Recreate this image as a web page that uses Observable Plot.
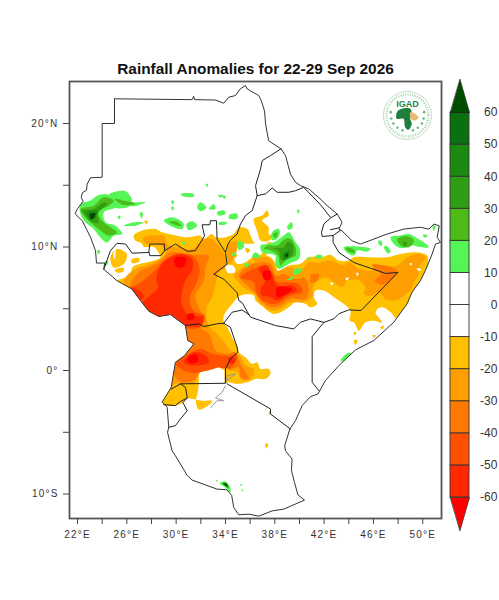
<!DOCTYPE html>
<html><head><meta charset="utf-8">
<style>html,body{margin:0;padding:0;background:#fff}#wrap{display:flex;width:499px;height:600px;font-family:"Liberation Sans",Arial,sans-serif}
#wrap svg g[aria-label="x-axis tick label"] text,#wrap svg g[aria-label="y-axis tick label"] text{letter-spacing:1.2px}</style>
<script src="https://cdn.jsdelivr.net/npm/d3@7"></script>
<script src="https://cdn.jsdelivr.net/npm/@observablehq/plot@0.6"></script>
</head><body><div id="wrap"></div>
<script>
const titleText = "Rainfall Anomalies for 22-29 Sep 2026";
const lonTicks = [22,24,26,28,30,32,34,36,38,40,42,44,46,48,50];
const latTicks = [-10,-5,0,5,10,15,20];
const barLevels = [-60,-50,-40,-30,-20,-10,0,10,20,30,40,50,60];
const barColors = ["#ff2800","#ff5000","#ff7800","#ff9e00","#ffc000","#ffffff","#ffffff","#55f555","#4cbb17","#2f9e14","#1c8a10","#0a7010"];
const tipLow = "#ff0000", tipHigh = "#004d00";
const [Y1,Y2,Y3,Y4,Y5,Y6] = ["#ffc000","#ff9e00","#ff7800","#ff5000","#ff2800","#ff0000"];
const [G1,G2,G3,G4,G5,G6] = ["#55f555","#4cbb17","#2f9e14","#1c8a10","#0a7010","#004d00"];

const outline = [[25,22],[25,20],[24,20],[24,15.65],[23.05,15.6],[22.78,15.1],[22.73,14.6],[22.4,14.4],[22.3,14],[22.46,13.7],[22,13.1],[21.8,12.7],[22.4,12.1],[22.6,11.7],[23.05,10.8],[23.46,9.7],[23.54,8.7],[24.2,8.7],[24.13,8.2],[25.2,7.27],[26.4,6.6],[27.1,5.67],[27.78,4.8],[28.6,4.37],[29.54,4.53],[30.75,3.64],[30.94,2.43],[31.43,2.16],[30.67,1.2],[29.94,0.67],[29.6,-1.36],[28.86,-2.57],[29.27,-2.98],[29.4,-4.6],[29.3,-5],[29.67,-6.5],[29.94,-6.9],[30.9,-8.5],[31.3,-8.87],[33.3,-9.6],[34.1,-9.65],[34.5,-10.1],[34.67,-11.1],[35.08,-11.68],[35.9,-11.63],[36.7,-11.79],[37.8,-11.36],[38.73,-11.22],[40.41,-10.49],[39.87,-10.06],[39.6,-9.06],[39.35,-8.1],[39.4,-7.17],[38.87,-6.5],[38.8,-6.1],[39.22,-4.74],[39.68,-4.06],[40.22,-2.84],[40.9,-2.11],[41.5,-1.9],[42.1,-0.82],[43.2,0.4],[44.54,1.67],[46.03,2.43],[47.65,3.91],[48.73,5.4],[49.14,6.35],[49.8,7.26],[50.2,8.07],[50.76,9.43],[51.03,10.24],[51.44,10.37],[51.17,10.78],[51.33,11.72],[50.9,11.86],[50.5,11.45],[49.8,11.6],[48.46,11.45],[47.1,11.05],[46.03,10.64],[44.95,10.24],[44.27,10.5],[43.46,11.3],[43.2,11.45],[43.46,12],[43.06,12.67],[42.25,13.35],[41.57,14],[40.76,14.7],[40.08,14.97],[39.68,15.24],[39.27,15.9],[38.87,17.4],[38.5,17.95],[37.5,18.6],[37.25,19.97],[37.17,21],[36.9,21.86],[36.7,22.26],[35.76,22.8],[35.62,23.07],[35.2,22.8],[34.8,22.26],[34.27,22.13],[33.86,21.64],[33.2,21.9],[31.5,21.93],[31.42,22.2],[31.3,21.93],[25,22]];
const borders = [
 [[38.5,17.95],[37.65,17.4],[36.98,17],[36.84,16.3],[36.44,14.97],[36.57,14.16],[36.17,12.95],[35.62,12.54],[35.22,11.87],[34.94,11.05],[34.4,10.56],[34.2,10.24],[34,9.56],[34.13,8.6],[33.05,7.8],[33.86,7.4],[34.94,6.3],[35.08,5.67],[35.35,5.5],[35.9,4.53]],
 [[36.57,14.16],[37.25,14.3],[37.79,14.78],[38.2,14.43],[39.14,14.43],[39.68,14.56],[40.35,14.83],[41.7,13.43],[42.52,12.4]],
 [[43.06,12.67],[42.52,12.35],[41.98,11.86],[41.79,11.2],[41.84,10.85],[42.73,10.93],[43.33,11.35]],
 [[42.52,11.4],[43.2,11.55]],
 [[42.73,10.93],[42.73,10.37],[43.2,9.56],[44.4,8.75],[46.98,7.86],[47.98,7.94],[45,4.86],[44,4.91],[43.2,4.6],[42.78,4.18],[41.98,3.9],[41.03,2.75],[41.03,-0.95],[41.57,-1.63]],
 [[41.98,3.9],[40.9,4.18],[40.09,3.91],[39.54,3.37],[38.06,3.64],[36.03,4.32],[35.9,4.53]],
 [[35.9,4.53],[35.35,4.9],[34.54,4.72],[33.86,3.83],[34.4,3.5],[34.94,1.89],[35,1.48],[34.4,0.94],[34,0.13],[34,-1.03],[30.35,-1.08],[29.6,-1.5]],
 [[34.13,-1.08],[37.65,-3.11],[37.65,-3.52],[39.27,-4.74]],
 [[30.75,3.64],[31.84,3.78],[32.24,3.56],[33.32,3.78],[33.86,3.83]],
 [[30.35,-1.08],[30.76,-1.36],[30.9,-2.22],[30.35,-2.5],[29.94,-2.84],[29,-2.76]],
 [[30.9,-2.22],[30.55,-2.6],[30.9,-3.25],[30.35,-3.92],[29.94,-4.46],[29.4,-4.6]],
 [[24.13,8.2],[24.67,9.7],[25.2,10.3],[25.9,10.24],[26.43,9.5],[27.78,9.56],[27.86,10.24],[29.05,10.24],[29.05,9.7],[29.94,10.24],[30.9,9.65],[31.56,9.7],[32.3,10.9],[32.1,11.8],[32.73,11.8],[32.78,12.13],[33.27,12.13],[33.32,10.64],[34,9.56]],
 [[27.8,9.56],[27.86,9.3],[28.75,9.3],[29.05,9.7]]
];
const shores = [
 [[34,-1.22],[33.73,-1.76],[33.19,-2.22],[33.86,-2.44],[33.32,-2.44],[32.78,-3.03]],
 [[34.05,-0.95],[34.13,-0.41],[34.81,-0.28],[34.4,-0.6],[34.1,-0.8]]
];
const lake = [[31.84,-0.41],[31.97,-0.14],[32.65,0],[33.46,0.27],[33.92,0],[33.92,-1.03],[33.5,-2],[32.9,-2.4],[32.1,-2.4],[31.7,-2.25],[31.84,-1.03]];

const yellowMain = [[25.2,7.3],[25.89,7.54],[26.3,7.9],[26.5,8.4],[27.8,8.8],[28.73,9.16],[28.6,9.5],[28.2,10],[27.4,10],[27.2,10.3],[26.7,10.5],[26.56,10.92],[27.24,11.33],[28.32,11.46],[28.86,11.19],[30.08,10.92],[30.89,10.79],[31.97,10.92],[32.24,10.65],[32.9,11.06],[33.2,10.8],[34,10.8],[34.68,11.07],[35.08,11.6],[35.76,11.47],[36.03,10.93],[36.43,10.26],[37.1,10.26],[37.65,10.39],[38.2,9.9],[38.3,9],[38.19,7.96],[39.14,8.5],[40.08,8.64],[40.76,9.18],[41.84,9.18],[42.52,9.36],[43.2,8.9],[44,8.9],[44.4,9.17],[45.76,9.17],[47.1,9.17],[48.2,9.44],[49.4,9.58],[50.36,9.3],[50.4,8.5],[50.1,7.6],[49.5,6.6],[49,5.4],[47.9,4.2],[47.4,4.71],[46.7,5.12],[46.17,4.71],[46.7,3.9],[46.04,4.04],[45.36,3.9],[44.82,3.23],[44.41,3.9],[44.09,4.04],[44.14,4.85],[43.6,5.39],[42.8,5.93],[41.98,6.47],[41.3,6.47],[41.17,5.93],[41.44,5.39],[40.9,5.12],[40.5,5.39],[39.68,5.53],[39.14,5.12],[38.46,4.72],[37.92,4.58],[37.38,4.85],[37.1,5.12],[36.43,5.66],[36.3,6.07],[35.22,6.07],[34.54,5.39],[33.87,4.45],[33.87,3.85],[34.14,3.51],[34.68,2.43],[35,1.89],[35.08,1.48],[35.62,1.08],[36.16,0.54],[36.57,0.67],[36.84,0.13],[37.51,0.13],[37.65,-0.27],[37.24,-0.68],[36.43,-0.68],[35.76,-0.95],[34.81,-1.08],[34.27,-0.95],[33.92,-1.03],[31.84,-1.03],[29.4,-1.2],[29.6,0.27],[30.4,1.48],[31.43,2.16],[30.7,2.43],[30.5,3.64],[29.54,4.3],[28.6,4.17],[27.6,4.6],[26.9,5.5],[26.15,6.3],[25,7]];
const yellowBits = [
 [[36.3,12.28],[36.97,12.55],[37.38,12.96],[37.5,12.55],[36.97,12.15],[37.5,11.6],[37.5,11.07],[37.8,10.8],[37.5,10.5],[36.85,10.53],[36.6,11.2],[36.45,11.6]],
 [[30.6,-1],[31.9,-1],[31.62,-2.3],[31.62,-2.7],[31.84,-3.17],[32.38,-2.98],[32.92,-2.44],[32.1,-2.44],[30.81,-2.3],[30.5,-2.65],[29.81,-2.84],[29,-2.84],[28.85,-2.5],[29.14,-1.63],[29.54,-1.3]],
 [[24.67,9.16],[25.2,9.83],[26,9.43],[25.75,8.62],[24.94,8.35]],
 [[25.08,8.2],[25.76,8.3],[25.7,8],[25.1,7.95]],
 [[26.4,9],[27,9.1],[27,8.8],[26.4,8.7]],
 [[44.41,2.45],[44.7,2.45],[44.55,2.05]],
 [[45.9,2.85],[46.2,2.85],[46.05,2.65]],
 [[46.55,3.5],[46.85,3.65],[46.75,3.35]],
 [[37.22,-5.95],[37.48,-5.95],[37.33,-6.3]],
 [[37.5,-3.35],[37.7,-3.35],[37.6,-3.6]],
 [[27.4,12.1],[27.7,12.1],[27.6,11.85]],
 [[34.6,9.4],[34.95,9.4],[34.8,9.1]],
 [[35.6,9.9],[36,9.8],[35.8,9.5]],
 [[36,9],[36.4,8.9],[36.1,8.7]],
 [[36.9,9.5],[37.4,9.5],[37.1,9.2]],
 [[44.4,3.1],[44.6,3.1],[44.5,2.85]]
];
const orangeWest = [[25.75,7.27],[26.7,8.22],[27.9,8.62],[29.13,9.43],[28.9,10],[28.4,10.3],[27.6,10.25],[27.3,10.75],[28.4,10.95],[29,10.92],[29.4,10.1],[30.35,9.97],[31.3,9.84],[32.24,10.65],[32.9,10.65],[33.33,10.26],[34,9.2],[34,8.37],[33.46,7.96],[33.19,7],[32.92,5.93],[32.5,5.2],[32.6,3.7],[33.46,2.83],[34,2.16],[34.4,1.62],[34.95,1.35],[35.27,1.08],[35.62,0.4],[36.3,0.13],[36.16,-0.54],[35.35,-0.81],[35,-0.14],[34.4,0],[34.19,0.54],[33.46,0.4],[32.65,0],[31.92,-0.14],[31.7,-0.54],[31.43,-1.03],[29.95,-1.08],[29.5,-1.36],[29.6,0.27],[30.4,1.48],[31.43,2.16],[30.7,2.43],[30.5,3.64],[29.54,4.3],[28.6,4.17],[27.6,4.6],[26.9,5.5],[26.15,6.3]];
const orangeDeepWest = [[26.3,7],[26.97,7.95],[28.6,8.76],[29.54,9.57],[30.62,9.43],[31.56,9.38],[32.65,9.3],[32.38,8.35],[32.24,7.27],[31.56,6.06],[31.97,4.84],[32.38,4.18],[31.97,3.5],[32.65,2.97],[32.92,2.3],[33.19,1.62],[34.14,1.35],[34.81,1.48],[35.08,0.81],[35.62,-0.14],[35.89,-0.68],[35.22,-0.54],[35.08,0.27],[34.27,0.05],[34,0.4],[33.46,0.54],[32.65,0.13],[31.97,0],[31.57,-0.68],[30.62,-0.95],[30.08,-0.68],[29.7,0.27],[30.4,1.35],[31.3,2],[30.7,2.43],[30.5,3.64],[29.54,4.3],[28.6,4.17],[27.6,4.6],[26.9,5.5],[26.15,6.3]];
const redOrangeWest = [[26.3,6.6],[27.1,7.1],[28.05,7.9],[29.27,9.1],[30.35,9.5],[31.43,9.2],[31.9,8.22],[31.6,7],[31.1,5.92],[31.4,4.86],[32.3,4.45],[31.97,3.5],[30.5,3.5],[29.54,4.3],[28.6,4.17],[27.6,4.6],[26.9,5.5]];
const redWest = [[28.9,8.7],[29.6,9.2],[30.6,9.4],[31.3,9],[31.3,8.1],[30.8,7.4],[30.5,6.5],[30.4,5.6],[30.6,5],[31,4.5],[32.2,4.3],[31.9,3.6],[31,3.6],[30.4,3.8],[29.6,4.35],[28.6,4.25],[27.7,4.75],[27.2,5.4],[27.8,6],[28.5,6.7],[28.4,7.5]];
const redWestTip = [[26.3,6.7],[27.1,6.4],[27.4,6],[26.9,5.6]];
const pureRed = [
 [[29.9,9.1],[30.8,9.1],[30.6,8.4],[30,8.4]],
 [[30.9,4.55],[31.4,4.6],[31.5,4.2],[30.9,4.1]],
 [[37,7.96],[37.6,8.05],[37.7,7.45],[37.2,7.3]],
 [[38.19,6.74],[39.41,6.61],[38.73,6.07],[38.19,5.93]],
 [[30.9,1],[31.6,1.3],[31.8,0.8],[31.1,0.6]]
];
const redOrangeUganda = [[30,0.54],[31,1.35],[31.97,1.75],[32.92,1.35],[33.73,1.2],[34.27,1.2],[34.89,1.3],[34.9,0.81],[34.3,0.2],[33.46,0.2],[32.51,0],[31.43,-0.2],[30.4,0.1]];
const redUganda = [[30.62,0.67],[31.43,1.48],[32.38,1.21],[32.65,0.67],[31.43,0.4]];
const redKenyaEdge = [[34.27,1.08],[34.81,0.95],[34.7,0.6],[34.3,0.6]];
const orangeEth = [[34.68,7.69],[35.62,8.5],[36.43,9.18],[37.65,9.04],[38.19,8.1],[39,8.36],[40.22,8.23],[40.76,8.77],[41.57,8.64],[41.7,7.96],[40.76,7.69],[41.03,6.74],[41.03,5.93],[40.22,5.53],[39.27,5.53],[38.46,5],[37.78,4.85],[37.24,5.12],[36.57,5.8],[36.43,6.2],[35.62,6.6],[35.08,7.15]];
const orangeDeepEth = [[35.08,7.69],[36.3,8.64],[37.65,8.64],[38.05,7.69],[38.73,7.82],[39.68,7.42],[40.49,7.42],[40.76,6.47],[40.49,5.8],[39.27,5.8],[38.46,5.26],[37.78,5.12],[36.97,5.53],[36.57,6.07],[35.76,6.88]];
const redOrangeEth = [[35.22,7.55],[36.3,8.23],[37.1,8.5],[37.78,7.96],[38.19,7.15],[38.87,7.15],[39.95,7],[40.22,6.34],[39.27,6.07],[38.46,5.53],[37.78,5.39],[36.84,5.8],[36.43,6.47],[36.3,7.15]];
const redEth = [[36.7,8.23],[37.38,8.5],[37.78,7.69],[38.19,6.88],[39.41,6.88],[39.81,6.47],[38.87,6.07],[38.19,5.66],[37.65,5.93],[36.97,6.07],[36.84,6.61],[37.24,7.28]];
const orangeSom = [[40.9,8.23],[41.44,8.63],[42.52,8.9],[43.6,8.5],[44,8.77],[44.82,8.23],[46.04,8.09],[46.58,8.5],[47.93,8.5],[48.74,9.17],[49.82,9.44],[50.22,9.17],[49.82,8.5],[49.68,7.82],[49.28,7.14],[49,6.47],[48.47,6.06],[47.8,5.66],[46.98,5.79],[46.44,6.33],[45.9,6.06],[45.22,6.2],[45.36,6.74],[44.82,7.28],[43.87,7.28],[43.47,6.74],[42.8,7.14],[42.12,7.55],[41.3,7.14],[41.03,6.6]];
const orangeDeepSom = [[45.9,8.55],[46.6,8.55],[47.9,8.1],[47.5,7.4],[46.6,6.95],[46.1,7.3],[46.6,7.8],[46.1,8.2]];
const orangeDeepSom2 = [[41,8.2],[41.5,8],[41.5,7.3],[40.9,7.1]];
const orangeFringe = [[34.27,10.26],[34.95,10.39],[34.68,9.04],[34.27,8.64]];
const whiteHoles = [
 [[34.95,10.12],[36.16,10.26],[37.8,10.12],[38.19,8.5],[37.65,9.18],[36.43,9.31],[35.62,8.77],[34.95,8.64],[34.68,9.18]],
 [[34,8.5],[34.6,8.5],[34.8,8],[34.2,7.9]],
 [[25,9],[25.1,9.8],[24.9,9.4]],
 [[26.3,9.9],[27,9.9],[26.7,9.2],[26.2,9.35]],
 [[27.6,9.9],[28.1,9.8],[27.9,9.4],[27.4,9.4]],
 [[43.7,7.45],[44,7.55],[43.9,7.3]],[[44.6,7.9],[44.8,7.85],[44.7,7.65]],[[42.5,7.1],[42.75,7.1],[42.6,6.9]],
 [[49.5,8.3],[49.9,8.2],[49.7,8.05]],[[48.95,8.7],[49.15,8.65],[49,8.5]],[[46.3,5],[46.7,5.1],[46.5,4.75]]
];
const lightGreen = [
 [[22.24,13.49],[23.05,13.76],[23.59,14.16],[24.27,14.3],[25.08,14.03],[25.62,14.57],[26.16,14.3],[25.48,13.89],[26.43,13.62],[27.51,13.62],[26.83,13.35],[25.75,13.27],[24.81,13.08],[24.13,12.81],[24.27,12],[25.08,11.73],[25.62,11.06],[24.94,10.92],[24.4,10.38],[23.73,10.92],[23.32,11.46],[22.65,12],[22.24,12.68]],
 [[24.5,14.2],[25.8,14.5],[26.4,13.9],[26.2,13.3],[25,13.2]],
 [[25.75,11.73],[26.56,12],[27.37,12],[26.7,11.73]],
 [[29,12.14],[29.67,12.41],[30.62,11.87],[30.48,11.46],[29.54,11.73]],
 [[30.84,11.87],[31.3,12.08],[31.7,11.73],[31,11.38]],
 [[30.35,14.3],[31.43,14.3],[31.43,14.08],[30.62,14.08]],
 [[31.7,13.2],[31.97,13.62],[32.46,13.2],[31.97,12.9]],
 [[32.65,13.08],[33.05,13.49],[33.19,13.08]],
 [[33.3,12.8],[33.87,12.96],[34,12.69],[33.46,12.55]],
 [[34.3,12.6],[34.95,12.7],[34.95,12.3],[34.3,12.3]],
 [[33.46,12],[34.14,12],[34,11.82],[33.46,11.82]],
 [[29.6,13.75],[29.85,13.7],[29.7,13.45]],
 [[29.6,13.25],[29.85,13.2],[29.7,12.95]],
 [[27.05,12.8],[27.3,12.75],[27.2,12.3]],
 [[25.25,12.5],[25.5,12.5],[25.35,12.25]],
 [[32.4,15.1],[32.6,15.1],[32.5,14.85]],
 [[33.75,14.15],[34.05,14.1],[33.9,13.9]],
 [[30.5,10.4],[30.8,10.4],[30.65,10.15]],
 [[23.6,9.75],[23.85,9.7],[23.7,9.4]],
 [[24.15,8.75],[24.5,8.85],[24.3,8.45]],
 [[33.4,14.2],[33.8,14.2],[33.6,14]],
 [[37.65,10.8],[37.92,11.34],[38.33,11.47],[38.38,10.93],[37.92,10.53]],
 [[39,11.6],[39.35,12],[39.46,11.6],[39.14,11.4]],
 [[39.8,13],[40,13],[39.9,12.7]],
 [[38.73,10.93],[39.14,11.2],[39.68,10.39],[40.03,9.85],[39.95,9.04],[39.14,8.64],[38.32,8.23],[38.05,8.64],[38.05,9.31],[37.51,9.45],[36.97,9.58],[36.84,10.12],[37.51,10.26],[38.19,10.53]],
 [[36.16,9.18],[36.43,9.58],[36.84,9.18]],
 [[34.95,10.4],[35.4,10.4],[35.5,10],[35.1,9.75]],
 [[34.5,9.5],[34.8,9.5],[34.65,9.2]],
 [[35.5,8.65],[35.9,8.65],[35.75,8.35]],
 [[39.46,7.82],[39.68,8.23],[40.22,8.23],[39.95,7.82]],
 [[39,7.35],[39.5,7.6],[39.45,7.4]],
 [[40.6,9.1],[40.9,9.15],[40.75,8.95]],[[41.2,9.2],[41.55,9.3],[41.5,9.05]],
 [[47.39,10.8],[48.2,10.93],[48.87,11.06],[49.41,10.8],[50.09,10.39],[50.5,9.98],[49.82,9.98],[49.14,10.12],[48.33,9.9],[47.79,10.12]],
 [[43.6,9.98],[44.28,10.06],[45.76,9.85],[45.5,9.63],[44.68,9.71],[44.41,9.31],[43.74,9.63]],
 [[46.4,10.5],[46.65,10.5],[46.7,10.1],[46.45,10.2]],
 [[46.85,10],[47.05,10.1],[47.4,9.6],[47.15,9.5]],
 [[50,11],[50.4,10.95],[50.2,10.75]],
 [[50.8,11.75],[51.05,11.7],[50.9,11.3]],
 [[41.4,9.35],[41.85,9.3],[41.85,9.1],[41.4,9.15]],
 [[43.33,0.8],[43.87,1.4],[44.22,1.4],[43.65,0.75]],
 [[33.25,-8.9],[33.4,-8.85],[33.3,-9.05]],[[35.2,-9.2],[35.35,-9.2],[35.25,-9.35]],[[35.3,-9.65],[35.45,-9.65],[35.35,-9.8]],
 [[33.54,-9.14],[34,-8.98],[34.4,-9.47],[34.4,-9.87],[34,-9.47]]
];
const midGreen = [
 [[22.24,13.08],[23.32,13.35],[24.13,14.03],[24.94,13.76],[24.54,13.35],[23.73,12.95],[23.86,12.27],[24.67,11.6],[25.21,11.19],[24.54,10.92],[23.86,11.33],[23.05,12],[22.51,12.54]],
 [[25,13.9],[26,13.7],[26.7,13.5],[25.7,13.4]],
 [[29.4,12.05],[30.05,12.05],[30.45,11.7],[29.8,11.85]],
 [[38.87,10.66],[39.27,10.66],[39.68,9.99],[39.68,9.31],[39,9.04],[38.46,8.5],[38.27,9.31],[37.65,9.72],[37.1,9.85],[37.38,10.12],[38.19,10.12]],
 [[37.85,11],[38.2,11.2],[38.1,10.75]],
 [[47.93,10.66],[48.74,10.87],[49.28,10.52],[48.87,9.98],[48.2,10.12]],
 [[43.75,9.95],[44.3,9.85],[44.55,9.52],[44,9.62]],
 [[33.8,-9.1],[34.1,-9.1],[34.25,-9.5],[34,-9.35]]
];
const deepGreen = [
 [[22.38,12.95],[23.32,13.08],[24.13,13.62],[24.4,13.49],[23.59,12.68],[23.73,12],[23.19,12],[22.65,12.54]],
 [[39,10.39],[39.41,10.26],[39.41,9.31],[38.73,8.9],[38.46,9.04],[38.32,9.72],[37.65,9.85],[38.05,9.93],[38.73,9.99]],
 [[48.4,10.4],[48.75,10.35],[48.5,10.05]]
];
const darkGreen = [
 [[22.78,12.81],[23.59,12.9],[23.46,12.41],[23.05,12.14]],
 [[38.73,9.45],[39.14,9.72],[39.19,9.31],[38.73,8.96]]
];
const darkerGreen = [
 [[23,12.68],[23.46,12.73],[23.32,12.35],[23.1,12.27]],
 [[33.75,-9.15],[34.05,-9.15],[34.2,-9.47],[33.95,-9.3]],
 [[38.8,9.3],[39.05,9.5],[39.05,9.2]]
];
const logoCentre = [48.76,20.65];
const logoAfrica = [[47.9,20.92],[48.3,21.19],[48.98,21.19],[49.11,20.87],[48.98,20.38],[49.11,19.97],[48.84,19.49],[48.57,19.7],[48.44,20.38],[47.9,20.38]];
const logoHorn = [[48.98,20.92],[49.38,20.79],[49.65,20.46],[49.38,20.25],[49.11,20.3]];
const logoLaurel = [[47.4,20.92],[47.45,20.4],[47.62,20],[47.95,19.65],[48.35,19.45],[50.12,20.92],[50.07,20.4],[49.93,20],[49.6,19.65],[49.2,19.45]];

const lon = d => d[0], lat = d => d[1];
const patch = (p, c, curve = "catmull-rom-closed") => Plot.line(p, {x: lon, y: lat, fill: c, stroke: "none", curve});
const patches = (list, c) => list.map(p => patch(p, c));
const stroke = (p, c, w) => Plot.line(p, {x: lon, y: lat, stroke: c, strokeWidth: w});
const xDomain = [21.35,51.52], yDomain = [-11.98,23.4];
const mask = [[xDomain[0],yDomain[1]],[xDomain[1],yDomain[1]],[xDomain[1],yDomain[0]],[xDomain[0],yDomain[0]],[xDomain[0],yDomain[1]],...outline,outline[0],[xDomain[0],yDomain[1]]];
const latLabel = d => d === 0 ? "0°" : d % 10 ? "" : Math.abs(d) + "°" + (d > 0 ? "N" : "S");

const map = Plot.plot({
  width: 445, height: 600, marginLeft: 69, marginRight: 4, marginTop: 81, marginBottom: 82,
  style: {fontFamily: '"Liberation Sans",Arial,sans-serif', background: "#fff"},
  x: {domain: xDomain}, y: {domain: yDomain},
  marks: [
    patch(yellowMain, Y1), ...patches(yellowBits, Y1),
    patch(orangeSom, Y2), patch(orangeDeepSom, Y3), patch(orangeDeepSom2, Y3),
    patch(orangeWest, Y2), patch(orangeDeepWest, Y3), patch(redOrangeWest, Y4), patch(redWest, Y5), patch(redWestTip, Y5),
    patch(redOrangeUganda, Y4), patch(redUganda, Y5), patch(redKenyaEdge, Y5),
    patch(orangeEth, Y2), patch(orangeDeepEth, Y3), patch(redOrangeEth, Y4), patch(redEth, Y5),
    ...patches(pureRed, Y6),
    ...patches(whiteHoles, "#fff"), ...patches(yellowBits.slice(11, 15), Y1), patch(orangeFringe, Y2),
    ...patches(lightGreen, G1), ...patches(midGreen, G2), ...patches(deepGreen, G3), ...patches(darkGreen, G4), ...patches(darkerGreen, G6),
    patch(lake, "#fff", "linear"),
    patch(mask, "#fff", "linear"),
    ...shores.map(p => stroke(p, "#999", 1)),
    stroke(outline, "#333", 1),
    ...borders.map(p => stroke(p, "#222", 1)),
    Plot.dot([logoCentre], {x: lon, y: lat, r: 24, fill: "#fff", stroke: "#bfe0c3", strokeWidth: 1}),
    Plot.dot([logoCentre], {x: lon, y: lat, r: 21, fill: "none", stroke: "#a8d5ad", strokeWidth: 2.5, strokeDasharray: "1,1.4"}),
    patch(logoAfrica, "#1c7f3c"), patch(logoHorn, "#e9b872"),
    Plot.dot(logoLaurel, {x: lon, y: lat, r: 1.3, fill: "#6db680"}),
    Plot.text(["IGAD"], {x: logoCentre[0], y: 21.6, fontSize: 9, fontWeight: "bold", fill: "#1c8a44"}),
    Plot.frame({stroke: "#555", strokeWidth: 1.8}),
    Plot.axisX({ticks: lonTicks, tickSize: 6, tickPadding: 6, fontSize: 10, stroke: "#444", fill: "#333", label: null, tickFormat: d => (d - 22) % 4 ? "" : d + "°E"}),
    Plot.axisY({ticks: latTicks, tickSize: 6, tickPadding: 5, fontSize: 10, stroke: "#444", fill: "#333", label: null, tickFormat: latLabel}),
    Plot.text([titleText], {frameAnchor: "top", dy: -18, fontSize: 15.4, fontWeight: "bold", fill: "#111", text: d => d})
  ]
});

const barRows = barColors.map((c, i) => ({lo: barLevels[i], hi: barLevels[i + 1], c}));
const bar = Plot.plot({
  width: 54, height: 600, margin: 0,
  style: {fontFamily: '"Liberation Sans",Arial,sans-serif', background: "#fff", overflow: "visible"},
  x: {domain: [0,1], range: [5,24], axis: null},
  y: {domain: [-70.3,70.3], range: [530,79], axis: null},
  marks: [
    ...barRows.map(r => Plot.rect([r], {x1: 0, x2: 1, y1: "lo", y2: "hi", fill: r.c, stroke: "#333", strokeWidth: 0.9})),
    Plot.line([[0,60],[1,60],[0.5,70.3]], {x: lon, y: lat, fill: tipHigh, stroke: "#222", strokeWidth: 0.7, curve: "linear-closed"}),
    Plot.line([[0,-60],[1,-60],[0.5,-70.3]], {x: lon, y: lat, fill: tipLow, stroke: "#222", strokeWidth: 0.7, curve: "linear-closed"}),
    Plot.text(barLevels, {x: 2.47, y: d => d, text: d => String(d), textAnchor: "end", fontSize: 12, fill: "#333"})
  ]
});
document.getElementById("wrap").append(map, bar);
</script></body></html>
